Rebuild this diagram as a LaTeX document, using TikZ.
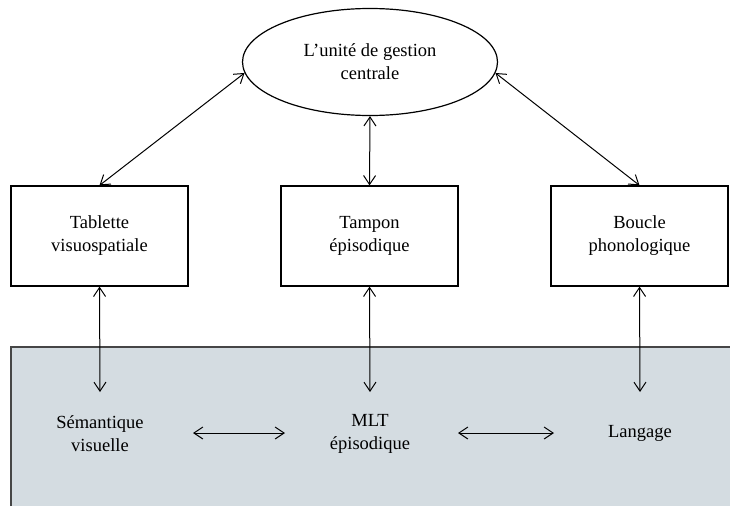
\documentclass[tikz,border=0pt]{standalone}
\usepackage{fontspec}
\setmainfont{Liberation Serif}
\usetikzlibrary{shapes.geometric,arrows.meta}
\definecolor{ltmfill}{RGB}{212,220,225}
\definecolor{ltmedge}{RGB}{70,70,70}
\begin{document}
\begin{tikzpicture}[x=1pt,y=-1pt,
  every node/.style={font=\rmfamily\fontsize{18.5}{23}\selectfont, align=center, text=black},
  module/.style={draw, line width=1.2pt, minimum width=177pt, minimum height=100pt, inner sep=0pt},
  central/.style={draw, ellipse, line width=1.2pt, minimum width=255pt, minimum height=107pt, inner sep=0pt},
  store/.style={inner sep=2pt},
  link/.style={line width=1pt, {Straight Barb[length=9pt,width=12pt]}-{Straight Barb[length=9pt,width=12pt]}}
]
\useasboundingbox (0,0) rectangle (730,506);

% long-term memory area
\fill[ltmfill] (11,347) rectangle (730,506);
\draw[ltmedge, line width=1.6pt] (11,506) -- (11,347) -- (730,347);

% central executive
\node[central] (ce) at (370,62) {L’unité de gestion\\centrale};

% slave systems
\node[module] (tab) at (99.5,236) {Tablette\\visuospatiale};
\node[module] (tam) at (369.5,236) {Tampon\\épisodique};
\node[module] (bou) at (639.5,236) {Boucle\\phonologique};

% long-term stores
\node[store] (sem) at (100,434) {Sémantique\\visuelle};
\node[store] (mlt) at (370,434) {MLT\\épisodique};
\node[store] (lan) at (640,433) {Langage};

% links to the central executive
\draw[link] (ce.185) -- (tab.north);
\draw[link] (ce.south) -- (tam.north);
\draw[link] (ce.355) -- (bou.north);

% links to long-term memory
\coordinate (semtop) at (100,392);
\coordinate (mlttop) at (370,392);
\coordinate (lantop) at (640,392);
\draw[link] (tab.south) -- (semtop);
\draw[link] (tam.south) -- (mlttop);
\draw[link] (bou.south) -- (lantop);

% links between stores
\draw[link] (193,433) -- (285,433);
\draw[link] (458,433) -- (554,433);
\end{tikzpicture}
\end{document}
